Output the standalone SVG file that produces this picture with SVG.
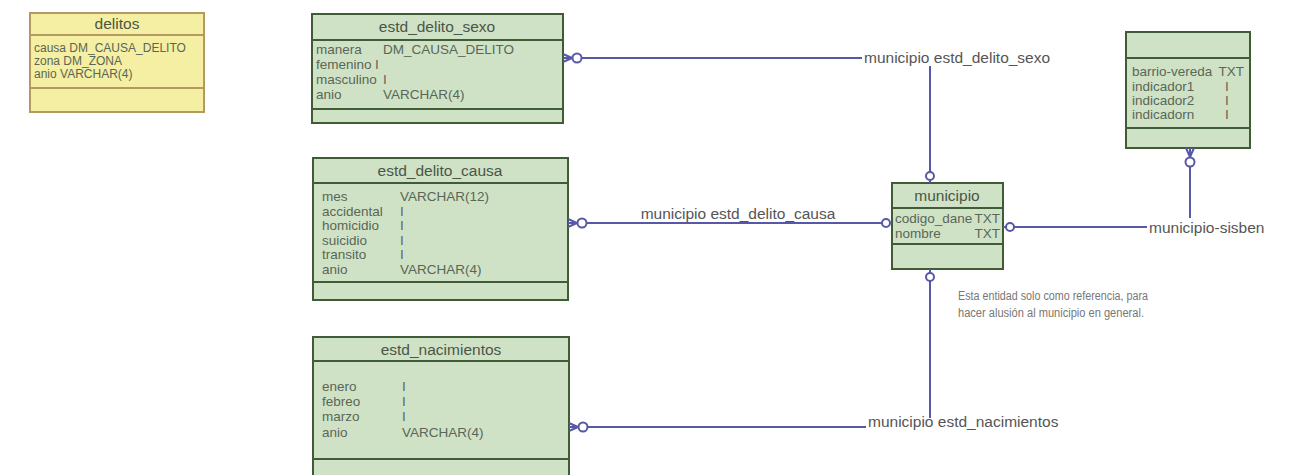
<svg xmlns="http://www.w3.org/2000/svg" width="1295" height="475" viewBox="0 0 1295 475">
<style>
.ent{fill:#cfe2c6;stroke:#3f5c37;stroke-width:2}
.sep{stroke:#3f5c37;stroke-width:2}
.yel{fill:#f4efa3;stroke:#b39a5e;stroke-width:2}
.ysep{stroke:#b39a5e;stroke-width:2}
text{font-family:"Liberation Sans",Arial,sans-serif}
.t{font-size:15.5px;fill:#4a5646;text-anchor:middle}
.r{font-size:13.5px;fill:#5a6656}
.y{font-size:12px;fill:#5a6656}
.lbl{font-size:15.5px;fill:#555}
.note{font-size:12.5px;fill:#777}
.ln{stroke:#5858a8;stroke-width:2;fill:none}
.c{stroke:#5858a8;stroke-width:2;fill:#fff}
</style>
<rect width="1295" height="475" fill="#fff"/>
<g id="delitos">
<rect class="yel" x="30" y="13" width="174" height="99"/>
<line class="ysep" x1="30" y1="35" x2="204" y2="35"/>
<line class="ysep" x1="30" y1="88" x2="204" y2="88"/>
<text class="t" x="117" y="29">delitos</text>
<text class="y" x="34" y="52">causa DM_CAUSA_DELITO</text>
<text class="y" x="34" y="65">zona DM_ZONA</text>
<text class="y" x="34" y="78">anio VARCHAR(4)</text>
</g>
<g id="estd_delito_sexo">
<rect class="ent" x="312" y="14" width="251" height="109"/>
<line class="sep" x1="312" y1="40" x2="563" y2="40"/>
<line class="sep" x1="312" y1="109" x2="563" y2="109"/>
<text class="t" x="437" y="32">estd_delito_sexo</text>
<text class="r" x="316" y="54">manera</text><text class="r" x="383" y="54">DM_CAUSA_DELITO</text>
<text class="r" x="316" y="69">femenino</text><text class="r" x="375" y="69">I</text>
<text class="r" x="316" y="84">masculino</text><text class="r" x="383" y="84">I</text>
<text class="r" x="316" y="99">anio</text><text class="r" x="383" y="99">VARCHAR(4)</text>
</g>
<g id="estd_delito_causa">
<rect class="ent" x="313" y="158" width="255" height="142"/>
<line class="sep" x1="313" y1="183" x2="568" y2="183"/>
<line class="sep" x1="313" y1="282" x2="568" y2="282"/>
<text class="t" x="440" y="176">estd_delito_causa</text>
<text class="r" x="322" y="201">mes</text><text class="r" x="400" y="201">VARCHAR(12)</text>
<text class="r" x="322" y="216">accidental</text><text class="r" x="400" y="216">I</text>
<text class="r" x="322" y="230">homicidio</text><text class="r" x="400" y="230">I</text>
<text class="r" x="322" y="245">suicidio</text><text class="r" x="400" y="245">I</text>
<text class="r" x="322" y="259">transito</text><text class="r" x="400" y="259">I</text>
<text class="r" x="322" y="274">anio</text><text class="r" x="400" y="274">VARCHAR(4)</text>
</g>
<g id="estd_nacimientos">
<rect class="ent" x="313" y="337" width="256" height="150"/>
<line class="sep" x1="313" y1="361" x2="569" y2="361"/>
<line class="sep" x1="313" y1="459" x2="569" y2="459"/>
<text class="t" x="441" y="355">estd_nacimientos</text>
<text class="r" x="322" y="391">enero</text><text class="r" x="402" y="391">I</text>
<text class="r" x="322" y="406">febreo</text><text class="r" x="402" y="406">I</text>
<text class="r" x="322" y="421">marzo</text><text class="r" x="402" y="421">I</text>
<text class="r" x="322" y="437">anio</text><text class="r" x="402" y="437">VARCHAR(4)</text>
</g>
<g id="municipio">
<rect class="ent" x="892" y="183" width="111" height="86"/>
<line class="sep" x1="892" y1="208" x2="1003" y2="208"/>
<line class="sep" x1="892" y1="244" x2="1003" y2="244"/>
<text class="t" x="947" y="201">municipio</text>
<text class="r" x="895" y="223">codigo_dane</text><text class="r" x="1000" y="223" text-anchor="end">TXT</text>
<text class="r" x="895" y="238">nombre</text><text class="r" x="1000" y="238" text-anchor="end">TXT</text>
</g>
<g id="sisben">
<rect class="ent" x="1126" y="32" width="124" height="116"/>
<line class="sep" x1="1126" y1="58" x2="1250" y2="58"/>
<line class="sep" x1="1126" y1="128" x2="1250" y2="128"/>
<text class="r" x="1132" y="76">barrio-vereda</text><text class="r" x="1244" y="76" text-anchor="end">TXT</text>
<text class="r" x="1132" y="91">indicador1</text><text class="r" x="1225" y="91">I</text>
<text class="r" x="1132" y="105">indicador2</text><text class="r" x="1225" y="105">I</text>
<text class="r" x="1132" y="119">indicadorn</text><text class="r" x="1225" y="119">I</text>
</g>
<g id="connectors">
<path class="ln" d="M563,54 L572,58 M563,62 L572,58 M563,58 L573,58 M582,58 L862,58 M930,66 L930,172 M930,180 L930,183"/>
<circle class="c" cx="577" cy="58" r="4.5"/>
<circle class="c" cx="930" cy="176" r="4"/>
<path class="ln" d="M568,219 L577,223 M568,227 L577,223 M568,223 L578,223 M587,223 L882,223"/>
<circle class="c" cx="582" cy="223" r="4.5"/>
<circle class="c" cx="886" cy="223" r="4"/>
<path class="ln" d="M569,423 L578,427 M569,431 L578,427 M569,427 L579,427 M588,427 L866,427 M930,281 L930,418 M930,269 L930,273"/>
<circle class="c" cx="583" cy="427" r="4.5"/>
<circle class="c" cx="930" cy="277" r="4"/>
<path class="ln" d="M1186,148 L1190,157 M1194,148 L1190,157 M1190,148 L1190,158 M1190,167 L1190,218 M1003,227 L1006,227 M1014,227 L1147,227"/>
<circle class="c" cx="1190" cy="162" r="4.5"/>
<circle class="c" cx="1010" cy="227" r="4"/>
</g>
<g id="labels">
<text class="lbl" x="864" y="63">municipio estd_delito_sexo</text>
<text class="lbl" x="738" y="219" text-anchor="middle">municipio estd_delito_causa</text>
<text class="lbl" x="868" y="427">municipio estd_nacimientos</text>
<text class="lbl" x="1149" y="233">municipio-sisben</text>
<text class="note" x="958" y="300" textLength="190" lengthAdjust="spacingAndGlyphs">Esta entidad solo como referencia, para</text>
<text class="note" x="958" y="317" textLength="186" lengthAdjust="spacingAndGlyphs">hacer alusión al municipio en general.</text>
</g>
</svg>
